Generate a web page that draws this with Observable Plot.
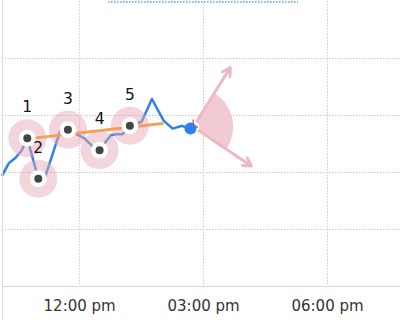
<!DOCTYPE html>
<html><head><meta charset="utf-8">
<script src="https://cdn.jsdelivr.net/npm/d3@7"></script>
<script src="https://cdn.jsdelivr.net/npm/@observablehq/plot@0.6"></script>
<style>
html,body{margin:0;padding:0;background:#fff;}
#chart{width:400px;height:320px;position:relative;overflow:hidden;}
#chart svg{display:block;}
#chart::before{content:"";position:absolute;left:2px;top:0;bottom:0;border-left:1px solid #dcdcdc;}
</style></head><body><div id="chart"></div>
<script>
// ---- data ----
const lineTimes = ["10:08","10:17","10:27","10:36","10:44","11:00","11:09","11:32","11:43","12:07","12:19","12:29","12:36","12:45","12:52","13:02","13:13","13:30","13:45","14:02","14:15","14:29","14:34","14:41"];
const lineValues = [1.96,2.16,2.26,2.39,2.60,1.89,1.89,2.74,2.75,2.60,2.46,2.39,2.51,2.65,2.67,2.67,2.82,2.89,3.29,2.91,2.77,2.82,2.79,2.77];
const pointLabels = ["1","2","3","4","5"];
const pointTimes = ["10:44","11:00","11:43","12:29","13:13"];
const pointValues = [2.60,1.89,2.75,2.39,2.82];
const trendTimes = ["10:44","14:00"];
const trendValues = [2.59,2.86];
const lastTime = "14:41";
const lastValue = 2.77;
const dirTime = "14:45";
const dirValue = 2.80;
const dirFrom = 32;   // degrees clockwise from north
const dirTo = 124;
const rangeTimes = ["12:42","17:18"];
const rangeValue = 5;
const xTickTimes = ["12:00","15:00","18:00"];
const yTickValues = [1,2,3,4];
const xDomainTimes = ["10:08","19:46"];
const yDomain = [0,5];

// ---- helpers ----
const T = s => { const [h,m] = s.split(":").map(Number); return new Date(Date.UTC(2024,0,1,h,m)); };
const fmt = d => d3.utcFormat("%I:%M %p")(d).toLowerCase();

const lineData = lineTimes.map((t,i) => ({t:T(t), v:lineValues[i]}));
const points = pointTimes.map((t,i) => ({t:T(t), v:pointValues[i], label:pointLabels[i]}));
const trend = trendTimes.map((t,i) => ({t:T(t), v:trendValues[i]}));
const dirs = [dirFrom, dirTo].map(a => ({t:T(dirTime), v:dirValue, a}));
const half = (dirTo - dirFrom) / 2 * Math.PI / 180;

const wedgeShape = {
  draw(ctx, l) {
    const r0 = 6, a0 = -Math.PI/2 - half, a1 = -Math.PI/2 + half;
    ctx.moveTo(r0*Math.cos(a0), r0*Math.sin(a0));
    ctx.arc(0,0,l,a0,a1);
    ctx.arc(0,0,r0,a1,a0,true);
    ctx.closePath();
  }
};
const arrowShape = {
  draw(ctx, l) {
    const r0 = 7, h = 9, a = Math.PI/6;
    ctx.moveTo(0,-r0); ctx.lineTo(0,-l);
    ctx.moveTo(-h*Math.sin(a), -l + h*Math.cos(a));
    ctx.lineTo(0,-l);
    ctx.lineTo(h*Math.sin(a), -l + h*Math.cos(a));
  }
};

const chart = Plot.plot({
  width: 400, height: 320,
  marginLeft: 2, marginRight: 0, marginTop: 1, marginBottom: 34,
  style: {fontFamily: "DejaVu Sans", fontSize: "15px", background: "#fff", overflow: "visible"},
  x: {type: "utc", domain: xDomainTimes.map(T), ticks: xTickTimes.map(T), tickFormat: fmt, tickSize: 0, tickPadding: 14, label: null},
  y: {domain: yDomain, axis: null},
  marks: [
    Plot.ruleY(yTickValues, {stroke: "#c8c8c8", strokeDasharray: "1.5,1.5"}),
    Plot.ruleX(xTickTimes.map(T), {stroke: "#c8c8c8", strokeDasharray: "1.5,1.5"}),
    Plot.ruleY([0], {stroke: "#d4d4d4", strokeWidth: 1}),
    Plot.ruleY([rangeValue], {x1: T(rangeTimes[0]), x2: T(rangeTimes[1]), stroke: "#8fb6ea", strokeWidth: 2, strokeDasharray: "1.5,1.5", dy: 0.5}),
    Plot.vector([dirs[0]], {x: "t", y: "v", rotate: (dirFrom + dirTo) / 2, length: 40, anchor: "start", shape: wedgeShape, fill: "#f2cad1", stroke: "none"}),
    Plot.vector(dirs, {x: "t", y: "v", rotate: "a", length: 70, anchor: "start", shape: arrowShape, stroke: "#ebb9c3", strokeWidth: 3, strokeLinecap: "round", strokeLinejoin: "round"}),
    Plot.line(lineData, {x: "t", y: "v", stroke: "#2f80e8", strokeWidth: 2.5, strokeLinejoin: "round"}),
    Plot.dot(points, {x: "t", y: "v", r: 19, fill: "#e5aab4", fillOpacity: 0.48, stroke: "none"}),
    Plot.line(trend, {x: "t", y: "v", stroke: "#f49e5c", strokeWidth: 3}),
    Plot.dot(points, {x: "t", y: "v", r: 8.5, fill: "#fff", stroke: "none"}),
    Plot.dot(points, {x: "t", y: "v", r: 4, fill: "#444", stroke: "none"}),
    Plot.ruleX([dirs[0]], {x: "t", y1: "v", y2: "v", insetTop: -7, stroke: "#ee5a3a", strokeWidth: 1.5}),
    Plot.ruleY([dirs[0]], {y: "v", x1: "t", x2: "t", insetRight: -5, stroke: "#ee5a3a", strokeWidth: 2}),
    Plot.dot([{t: T(lastTime), v: lastValue}], {x: "t", y: "v", r: 6, fill: "#2f80ee", stroke: "none"}),
    Plot.text(points, {x: "t", y: "v", text: "label", dy: -31, fontSize: 15.5, fill: "#111"})
  ]
});
chart.querySelectorAll("[aria-label='x-axis tick label'] text, g[aria-label='x-axis'] text").forEach(t => t.setAttribute("fill", "#333"));
document.getElementById("chart").appendChild(chart);
</script>
</body></html>
